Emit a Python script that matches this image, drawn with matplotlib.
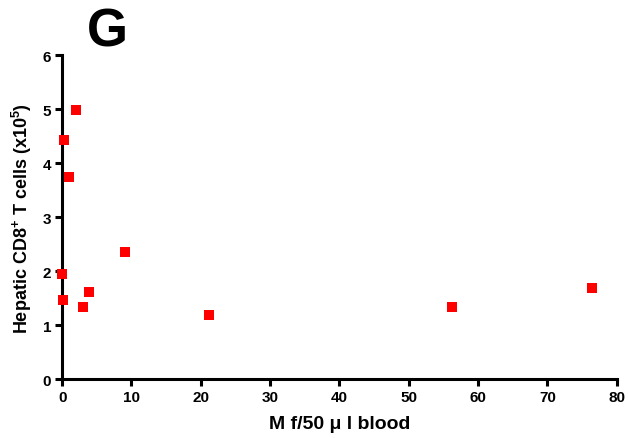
import matplotlib
matplotlib.use("Agg")
import matplotlib.pyplot as plt

plt.rcParams['font.family'] = ['Liberation Sans', 'DejaVu Sans']
plt.rcParams['font.weight'] = 'bold'
plt.rcParams['mathtext.fontset'] = 'custom'
plt.rcParams['mathtext.rm'] = 'Liberation Sans:bold'
plt.rcParams['mathtext.bf'] = 'Liberation Sans:bold'

# Mf per 50 ul blood vs hepatic CD8+ T cells (x10^5)
mf = [0.2, 2.0, 1.0, 0.0, 0.1, 3.0, 3.9, 9.0, 21.2, 56.2, 76.5]
cd8 = [4.43, 4.98, 3.75, 1.94, 1.47, 1.33, 1.62, 2.36, 1.18, 1.33, 1.69]
xticks = [0, 10, 20, 30, 40, 50, 60, 70, 80]
yticks = [0, 1, 2, 3, 4, 5, 6]

fig = plt.figure(figsize=(6.28, 4.39), dpi=100)
ax = fig.add_axes([0.099, 0.134, 0.883, 0.738])

ax.plot(mf, cd8, 's', color='#ff0000', ms=7.5, mew=0, clip_on=False, zorder=5)

ax.set_xlim(0, 80)
ax.set_ylim(0, 6)
ax.set_xticks(xticks)
ax.set_yticks(yticks)
for s in ['top', 'right']:
    ax.spines[s].set_visible(False)
for s in ['left', 'bottom']:
    ax.spines[s].set_linewidth(2.2)
ax.tick_params(width=2.2, length=5, labelsize=11, direction='out', pad=3)
for lab in ax.get_xticklabels() + ax.get_yticklabels():
    lab.set_fontweight('bold')

ax.set_xlabel('M f/50 μ l blood', fontsize=14, fontweight='bold', labelpad=8)
ax.set_ylabel(r'Hepatic CD8$^{+}$ T cells (x10$^{5}$)', fontsize=13, fontweight='bold', labelpad=6)

fig.text(0.171, 0.925, 'G', fontsize=38, fontweight='bold', ha='center', va='center')

fig.savefig('out.png', dpi=100)
